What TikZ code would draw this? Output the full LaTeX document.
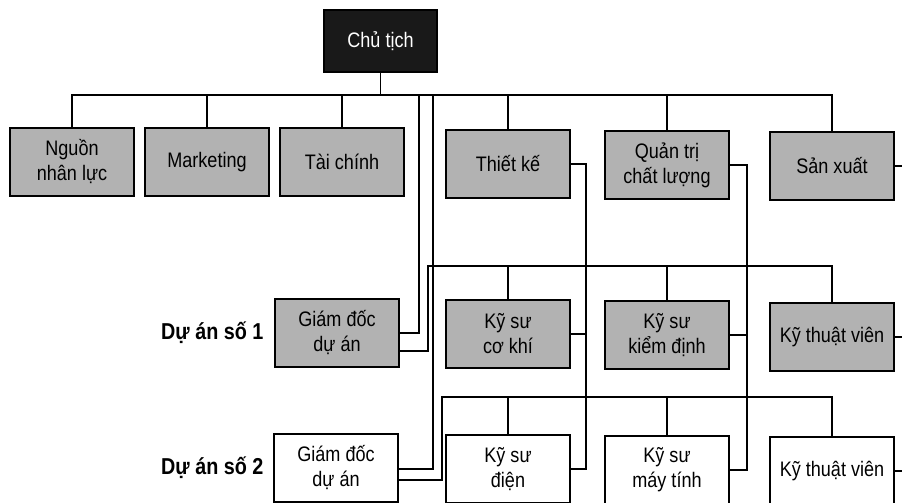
\documentclass[tikz,border=0pt]{standalone}
\usepackage{fontspec}
\setmainfont{Liberation Sans}[FakeStretch=0.86]
\usepackage{tikz}
\usetikzlibrary{calc}

\begin{document}
\begin{tikzpicture}[x=1pt,y=-1pt,
  box/.style={draw,line width=1.8pt,minimum width=124pt,minimum height=68pt,align=center,inner sep=2pt,
    font=\fontsize{21}{25}\selectfont},
  graybox/.style={box,fill=black!30},
  whitebox/.style={box,fill=white},
  link/.style={line width=1.4pt},
  prj/.style={anchor=east,font=\fontsize{23}{27}\selectfont\bfseries}]
\useasboundingbox (0,0) rectangle (902,503);
% chu tich
\node[box,fill=black!90,text=white,minimum width=113pt,minimum height=62pt](chu)at(380.5,41){Chủ tịch};
% phong ban
\node[graybox](nnl)at(72,162){Nguồn\\nhân lực};
\node[graybox](mkt)at(207,162){Marketing};
\node[graybox](tc)at(342,162){Tài chính};
\node[graybox](tk)at(508,164){Thiết kế};
\node[graybox](qt)at(667,165){Quản trị\\chất lượng};
\node[graybox](sx)at(832,166){Sản xuất};
% du an so 1
\node[prj](p1)at(267,333){Dự án số 1};
\node[graybox](gd1)at(337,333){Giám đốc\\dự án};
\node[graybox](ksck)at(508,334){Kỹ sư\\cơ khí};
\node[graybox](kskd)at(667,335){Kỹ sư\\kiểm định};
\node[graybox](ktv1)at(832,337){Kỹ thuật viên};
% du an so 2
\node[prj](p2)at(267,468){Dự án số 2};
\node[whitebox](gd2)at(336,468){Giám đốc\\dự án};
\node[whitebox](ksd)at(508,469){Kỹ sư\\điện};
\node[whitebox](ksmt)at(667,470){Kỹ sư\\máy tính};
\node[whitebox](ktv2)at(832,471){Kỹ thuật viên};
% duong noi
\coordinate(bus)at(380.5,95);
\coordinate(t1)at(419,95);
\coordinate(t2)at(433,95);
\coordinate(b1)at(428,266);
\coordinate(b2)at(442,397);
\coordinate(tkv)at(586,0);
\coordinate(qtv)at(747,0);
\coordinate(sxv)at(907,0);
\draw[link](chu)--(bus);
\draw[link](nnl.north)|-(bus)-|(sx.north);
\draw[link](mkt.north)--(mkt.north|-bus);
\draw[link](tc.north)--(tc.north|-bus);
\draw[link](tk.north)--(tk.north|-bus);
\draw[link](qt.north)--(qt.north|-bus);
\draw[link](gd1.east)-|(t1);
\draw[link]([yshift=-18pt]gd1.east)-|(b1)-|(ktv1.north);
\draw[link](ksck.north)--(ksck.north|-b1);
\draw[link](kskd.north)--(kskd.north|-b1);
\draw[link]([yshift=-1pt]gd2.east)-|(t2);
\draw[link]([yshift=-12pt]gd2.east)-|(b2)-|(ktv2.north);
\draw[link](ksd.north)--(ksd.north|-b2);
\draw[link](ksmt.north)--(ksmt.north|-b2);
\draw[link](tk.east)-|(tkv|-ksd.east)--(ksd.east);
\draw[link](ksck.east)--(tkv|-ksck.east);
\draw[link](qt.east)-|(qtv|-ksmt.east)--(ksmt.east);
\draw[link](kskd.east)--(qtv|-kskd.east);
\draw[link](sx.east)-|(sxv|-ktv2.east)--(ktv2.east);
\draw[link](ktv1.east)--(sxv|-ktv1.east);
\end{tikzpicture}
\end{document}
